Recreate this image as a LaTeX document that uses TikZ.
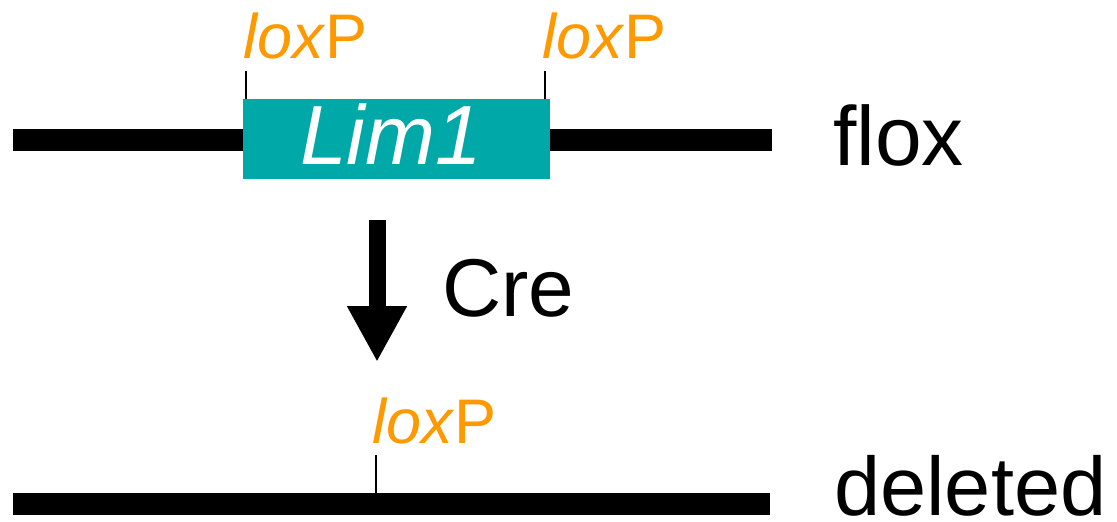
\documentclass[tikz,border=0pt]{standalone}
\usepackage{fontspec}
\setmainfont{Liberation Sans}
\usetikzlibrary{arrows.meta}
\definecolor{loxorange}{RGB}{255,153,0}
\definecolor{limteal}{RGB}{0,168,168}
\begin{document}
\begin{tikzpicture}[x=1pt,y=-1pt,
  dna/.style={line width=22pt},
  tick/.style={line width=1.5pt},
  loxlabel/.style={text=loxorange,font=\fontsize{63}{63}\selectfont,inner sep=0pt,anchor=base west},
  biglabel/.style={font=\fontsize{84}{84}\selectfont,inner sep=0pt,anchor=base west},
  genebox/.style={fill=limteal,draw=none,minimum width=307pt,minimum height=80pt,inner sep=0pt}]
\useasboundingbox (0,0) rectangle (1117,522);
% flox allele
\coordinate (fl) at (13,140);
\coordinate (fr) at (772,140);
\node[genebox] (lim1) at (396.5,139) {};
\draw[dna] (fl) -- (lim1.west |- fl);
\draw[dna] (lim1.east |- fr) -- (fr);
\node[font=\fontsize{84}{84}\selectfont\itshape,text=white,inner sep=0pt,anchor=base west] (limtxt) at (300,164) {Lim1};
\coordinate (t1top) at (246,71);
\coordinate (t2top) at (545,71);
\draw[tick] (t1top) -- (t1top |- lim1.north);
\draw[tick] (t2top) -- (t2top |- lim1.north);
\node[loxlabel] (lox1) at (243,58) {\textit{lox}P};
\node[loxlabel] (lox2) at (542,58) {\textit{lox}P};
\node[biglabel] (flox) at (833,165) {flox};
% Cre arrow
\coordinate (atop) at (377,220);
\coordinate (atip) at (377,362);
\draw[line width=17pt,-{Triangle[width=56pt,length=56pt]}] (atop) -- (atip);
\node[biglabel,font=\fontsize{82}{82}\selectfont] (cre) at (442,316) {Cre};
% deleted allele
\coordinate (dl) at (13,504);
\coordinate (dr) at (770,504);
\draw[dna] (dl) -- (dr);
\coordinate (t3top) at (376,455);
\draw[tick] (t3top) -- (t3top |- dl);
\node[loxlabel] (lox3) at (372,443) {\textit{lox}P};
\node[biglabel,font=\fontsize{83}{83}\selectfont] (deleted) at (834,515) {deleted};
\end{tikzpicture}
\end{document}
